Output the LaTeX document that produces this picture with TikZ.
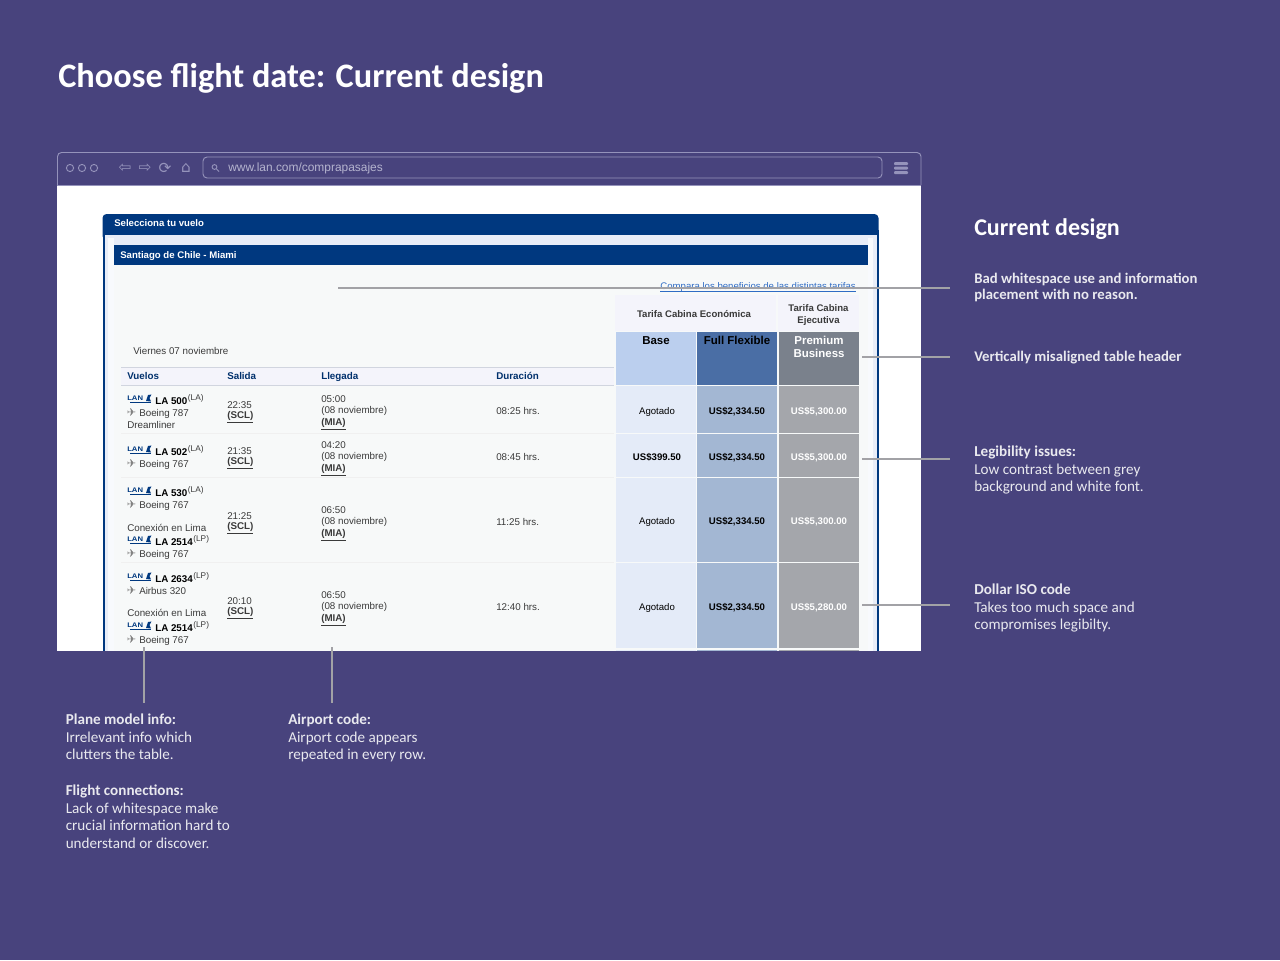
\documentclass[tikz,border=0pt]{standalone}
\usepackage{fontspec}
\setmainfont{Carlito}
\newfontfamily\webfont{Liberation Sans}
\newfontfamily\symfont{DejaVu Sans}
\usetikzlibrary{calc}
\definecolor{slate}{HTML}{48437D}
\definecolor{barline}{HTML}{9593BB}
\definecolor{navy}{HTML}{00387F}
\definecolor{panel}{HTML}{E8EDF8}
\definecolor{sheet}{HTML}{F7F9F9}
\definecolor{headtint}{HTML}{F4F4FB}
\definecolor{basehead}{HTML}{BBCFEE}
\definecolor{flexhead}{HTML}{4A6EA5}
\definecolor{premhead}{HTML}{7A818C}
\definecolor{basecell}{HTML}{E4EBF8}
\definecolor{flexcell}{HTML}{A3B7D3}
\definecolor{premcell}{HTML}{A4A6AB}
\definecolor{webtext}{HTML}{3A3A3A}
\definecolor{weblink}{HTML}{2F6CC4}
\definecolor{leader}{HTML}{A2A2A6}
\tikzset{
  web/.style={font=\webfont\fontsize{7.35}{9}\selectfont, text=webtext, anchor=base west, inner sep=0pt},
  webbold/.style={web, font=\webfont\bfseries\fontsize{7.35}{9}\selectfont},
  fare/.style={anchor=base, inner sep=0pt, font=\webfont\bfseries\fontsize{7.2}{9}\selectfont},
  callout/.style={anchor=north west, inner sep=0pt, align=left, text=white!88!slate, font=\fontsize{11.35}{13.1}\selectfont},
  leaderline/.style={draw=leader, line width=1pt},
  barstroke/.style={draw=barline, line width=.7pt},
}
\newcommand{\flightcell}[5]{%
    \node[font=\webfont\bfseries\fontsize{5}{5}\selectfont, text=navy, anchor=base west, inner sep=0pt, xscale=1.15] (#1) at (127,#2-4) {LAN};
    \fill[navy] (146,#2-3) -- (148,#2-9) -- (151.5,#2-9.5) -- (149.5,#2-6) -- (151,#2-2.5) -- cycle;
    \draw[navy, line width=.3pt] (130,#2-1.5) -- (151,#2-1.5);
    \node[webbold, text=black] (#1n) at (155,#2) {#3};
    \node[web, font=\webfont\fontsize{6.2}{7}\selectfont, anchor=base west] (#1s) at (#1n.base east) [yshift=2.6pt] {(#4)};
    \node[web, font=\symfont\fontsize{8.4}{9}\selectfont, text=black!50] (#1p) at (126.5,#2+12.5) {✈};
    \node[web] (#1m) at (139,#2+12) {#5};
}
\newcommand{\timecell}[5]{%
    \node[web] (#1a) at (227,#2-1) {#3};
    \node[webbold] (#1b) at (227,#2+9.5) {\underline{(SCL)}};
    \node[web] (#1c) at (321,#2-7) {#4};
    \node[web] (#1d) at (321,#2+4) {(08 noviembre)};
    \node[webbold] (#1e) at (321,#2+16) {\underline{(MIA)}};
    \node[web] (#1f) at (496,#2+5) {#5};
}
\newcommand{\farerow}[6]{%
    \fill[basecell] (616,#2) rectangle (696,#3);
    \fill[flexcell] (697,#2) rectangle (777,#3);
    \fill[premcell] (779,#2) rectangle (859,#3);
    \node[#6] (#1base) at (657,#2*.5+#3*.5+4.5) {#4};
    \node[fare] (#1flex) at (737,#2*.5+#3*.5+4.5) {US\$2,334.50};
    \node[fare, text=white] (#1prem) at (819,#2*.5+#3*.5+4.5) {#5};
}
\begin{document}
\begin{tikzpicture}[x=.75pt,y=-.75pt]
    \useasboundingbox (0,0) rectangle (1280,960);
    \fill[slate] (0,0) rectangle (1280,960);

    \node[anchor=base west, inner sep=0pt, text=white, font=\bfseries\fontsize{25.75}{30}\selectfont] (title) at (58,87) {Choose flight date: Current design};

    % browser
    \fill[white] (57,185) rectangle (921,651);
    \draw[barstroke, rounded corners=3pt] (57.5,185) -- (57.5,152.5) -- (921,152.5) -- (921,185);
    \draw[barstroke] (57,185) -- (921,185);
    \draw[barstroke, rounded corners=3pt] (203,157) rectangle (882,178);
    \foreach \cx in {70,82,94}
        \draw[barstroke] (\cx,168) circle (3.6);
    \foreach \ix/\isym in {125/⇦,145/⇨,165/⟳,186/⌂}
        \node[text=barline, font=\symfont\fontsize{11.5}{11.5}\selectfont, inner sep=0pt] (icon\ix) at (\ix,168) {\isym};
    \draw[barstroke] (214.5,167) circle (2.4);
    \draw[barstroke] (216.5,169) -- (219,171.5);
    \node[anchor=base west, inner sep=0pt, text=barline!70!white, font=\webfont\fontsize{8.95}{10}\selectfont] (url) at (228,171) {www.lan.com/comprapasajes};
    \foreach \by in {162,166.5,171}
        \fill[barline, rounded corners=.8pt] (894,\by) rectangle (908,\by+3.2);

    % page panels
    \fill[navy, rounded corners=3pt] (102.5,214) rectangle (878.5,240);
    \fill[navy] (102.5,230) rectangle (878.5,651);
    \fill[panel] (104.5,235) rectangle (876.5,651);
    \fill[sheet] (114,265) rectangle (868,651);
    \fill[white!70!panel] (108,238) rectangle (114,651);
    \fill[white!70!panel] (868,238) rectangle (873,651);
    \fill[navy] (114,245) rectangle (868,265);
    \node[anchor=base west, inner sep=0pt, text=white, font=\webfont\bfseries\fontsize{7.2}{8}\selectfont] (panelhead) at (114,226) {Selecciona tu vuelo};
    \node[anchor=base west, inner sep=0pt, text=white, font=\webfont\bfseries\fontsize{7.2}{8}\selectfont] (routehead) at (120,258) {Santiago de Chile - Miami};
    \node[anchor=base east, inner sep=0pt, text=weblink, font=\webfont\fontsize{7.2}{9}\selectfont] (compare) at (856,289) {Compara los beneficios de las distintas tarifas};
    \draw[weblink, line width=.5pt] ($(compare.base west)+(0,2)$) -- ($(compare.base east)+(0,2)$);

    % fare header
    \fill[headtint] (615,295) rectangle (776,331);
    \fill[headtint] (778,295) rectangle (859,331);
    \node[webbold, anchor=base, font=\webfont\bfseries\fontsize{7.2}{9}\selectfont] (economy) at (694,317) {Tarifa Cabina Económica};
    \node[webbold, anchor=center, align=center, font=\webfont\bfseries\fontsize{7.2}{8.3}\selectfont] (business) at (818.5,315) {Tarifa Cabina\\Ejecutiva};
    \fill[basehead] (616,332) rectangle (696,385);
    \fill[flexhead] (697,332) rectangle (777,385);
    \fill[premhead] (779,332) rectangle (859,385);
    \node[anchor=base, inner sep=0pt, font=\webfont\bfseries\fontsize{8.6}{9.6}\selectfont] (basehd) at (656,344) {Base};
    \node[anchor=base, inner sep=0pt, font=\webfont\bfseries\fontsize{8.6}{9.6}\selectfont] (flexhd) at (737,344) {Full Flexible};
    \node[anchor=north, inner sep=0pt, align=center, text=white, font=\webfont\bfseries\fontsize{8.6}{9.8}\selectfont] (premhd) at (819,335.5) {Premium\\Business};

    % flight table head
    \node[web] (date) at (133,354) {Viernes 07 noviembre};
    \fill[headtint] (121,367) rectangle (614,385);
    \draw[panel!90!black, line width=.6pt] (121,367) -- (614,367);
    \draw[panel!90!black, line width=.6pt] (121,385) -- (614,385);
    \foreach \hx/\hname in {127/Vuelos,227/Salida,321/Llegada,496/Duración}
        \node[webbold, text=navy!85!black] (col\hname) at (\hx,379) {\hname};
    \foreach \ry in {433,477,562}
        \draw[black!6, line width=.6pt] (121,\ry) -- (614,\ry);

    % rows
    \flightcell{fa}{404}{LA 500}{LA}{Boeing 787}
    \node[web] (dream) at (127,428) {Dreamliner};
    \timecell{ta}{409}{22:35}{05:00}{08:25 hrs.}
    \flightcell{fb}{455}{LA 502}{LA}{Boeing 767}
    \timecell{tb}{455}{21:35}{04:20}{08:45 hrs.}
    \flightcell{fc}{496}{LA 530}{LA}{Boeing 767}
    \node[web] (linkc) at (127,531) {Conexión en Lima};
    \flightcell{fd}{545}{LA 2514}{LP}{Boeing 767}
    \timecell{tc}{520}{21:25}{06:50}{11:25 hrs.}
    \flightcell{fe}{582}{LA 2634}{LP}{Airbus 320}
    \node[web] (linke) at (127,616) {Conexión en Lima};
    \flightcell{ff}{631}{LA 2514}{LP}{Boeing 767}
    \timecell{td}{605}{20:10}{06:50}{12:40 hrs.}

    \tikzset{plain/.style={fare, font=\webfont\fontsize{7.2}{9}\selectfont}}
    \farerow{ra}{386}{433}{Agotado}{US\$5,300.00}{plain}
    \farerow{rb}{434}{477}{US\$399.50}{US\$5,300.00}{fare}
    \farerow{rc}{478}{562}{Agotado}{US\$5,300.00}{plain}
    \farerow{rd}{563}{648}{Agotado}{US\$5,280.00}{plain}
    \fill[basecell] (616,650) rectangle (696,651);
    \fill[flexcell] (697,650) rectangle (777,651);
    \fill[premcell] (779,650) rectangle (859,651);

    % side notes
    \node[anchor=base west, inner sep=0pt, text=white, font=\bfseries\fontsize{18}{20}\selectfont] (current) at (974,235) {Current design};
    \node[callout, font=\bfseries\fontsize{11.05}{12.2}\selectfont] (whitespace) at (974,273) {Bad whitespace use and information\\placement with no reason.};
    \node[callout, font=\bfseries\fontsize{11.05}{12.2}\selectfont] (misaligned) at (974,351) {Vertically misaligned table header};
    \node[callout] (legibility) at (974,446) {\textbf{Legibility issues:}\\Low contrast between grey\\background and white font.};
    \node[callout] (dollar) at (974,584) {\textbf{Dollar ISO code}\\Takes too much space and\\compromises legibilty.};
    \node[callout] (plane) at (65.5,714) {\textbf{Plane model info:}\\Irrelevant info which\\clutters the table.};
    \node[callout] (connect) at (65.5,785) {\textbf{Flight connections:}\\Lack of whitespace make\\crucial information hard to\\understand or discover.};
    \node[callout] (airport) at (288,714) {\textbf{Airport code:}\\Airport code appears\\repeated in every row.};

    % leader lines
    \coordinate (la) at (338,288);
    \coordinate (lb) at (862,357);
    \coordinate (lc) at (862,459);
    \coordinate (ld) at (862,605);
    \draw[leaderline] (la) -- (950,288);
    \draw[leaderline] (lb) -- (950,357);
    \draw[leaderline] (lc) -- (950,459);
    \draw[leaderline] (ld) -- (950,605);
    \draw[leaderline] (144,647) -- (144,703);
    \draw[leaderline] (332,647) -- (332,703);
\end{tikzpicture}
\end{document}
